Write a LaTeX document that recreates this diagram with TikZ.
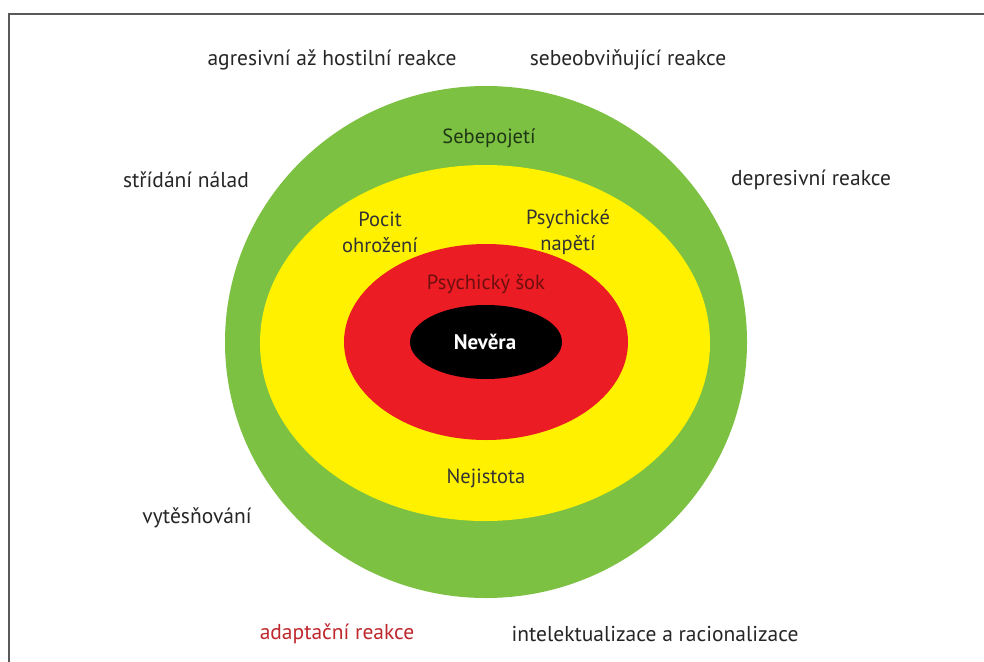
\documentclass[tikz,border=0pt]{standalone}
\usepackage{fontspec}
\setmainfont{PT Sans}
\begin{document}
\begin{tikzpicture}[x=1pt,y=-1pt,
  lbl/.style={inner sep=0pt, font=\fontsize{21.5}{24}\selectfont, text=black!85},
  inlbl/.style={inner sep=0pt, font=\fontsize{20.5}{26}\selectfont, align=center}]
\definecolor{cgreen}{RGB}{125,193,66}
\definecolor{cyellow}{RGB}{255,241,0}
\definecolor{cred}{RGB}{235,28,36}
\definecolor{cdarkgreen}{RGB}{30,55,20}
\definecolor{cdarkred}{RGB}{110,15,15}
\definecolor{cadapt}{RGB}{190,40,45}
\useasboundingbox (0,0) rectangle (984,661);
\fill[white] (0,0) rectangle (984,661);
\draw[gray!70!black, line width=2.5pt] (9,663) -- (9,14) -- (986,14);
% rings
\fill[cgreen] (486,342) ellipse [x radius=261, y radius=256];
\fill[cyellow] (485,343) ellipse [x radius=225, y radius=178];
\fill[cred] (486,342) ellipse [x radius=142, y radius=98];
\fill[black] (486,342) ellipse [x radius=76, y radius=37];
% inner labels
\node[inlbl, text=cdarkgreen] (seb) at (489,138) {Sebepojetí};
\node[inlbl, text=black!80] (poc) at (380,232) {Pocit\\ohrožení};
\node[inlbl, text=black!80] (nap) at (568,232) {Psychické\\napětí};
\node[inlbl, text=cdarkred] (sok) at (486,284) {Psychický šok};
\node[inlbl, text=white, font=\fontsize{21}{24}\selectfont\bfseries] (nev) at (485,342) {Nevěra};
\node[inlbl, text=black!80] (nej) at (486,478) {Nejistota};
% outer labels
\node[lbl] (agr) at (332,60) {agresivní až hostilní reakce};
\node[lbl] (sob) at (628,60) {sebeobviňující reakce};
\node[lbl] (str) at (186,180) {střídání nálad};
\node[lbl] (dep) at (811,180) {depresivní reakce};
\node[lbl] (vyt) at (197,518) {vytěsňování};
\node[lbl, text=cadapt] (ada) at (337,634) {adaptační reakce};
\node[lbl] (int) at (655,634) {intelektualizace a racionalizace};
\end{tikzpicture}
\end{document}
